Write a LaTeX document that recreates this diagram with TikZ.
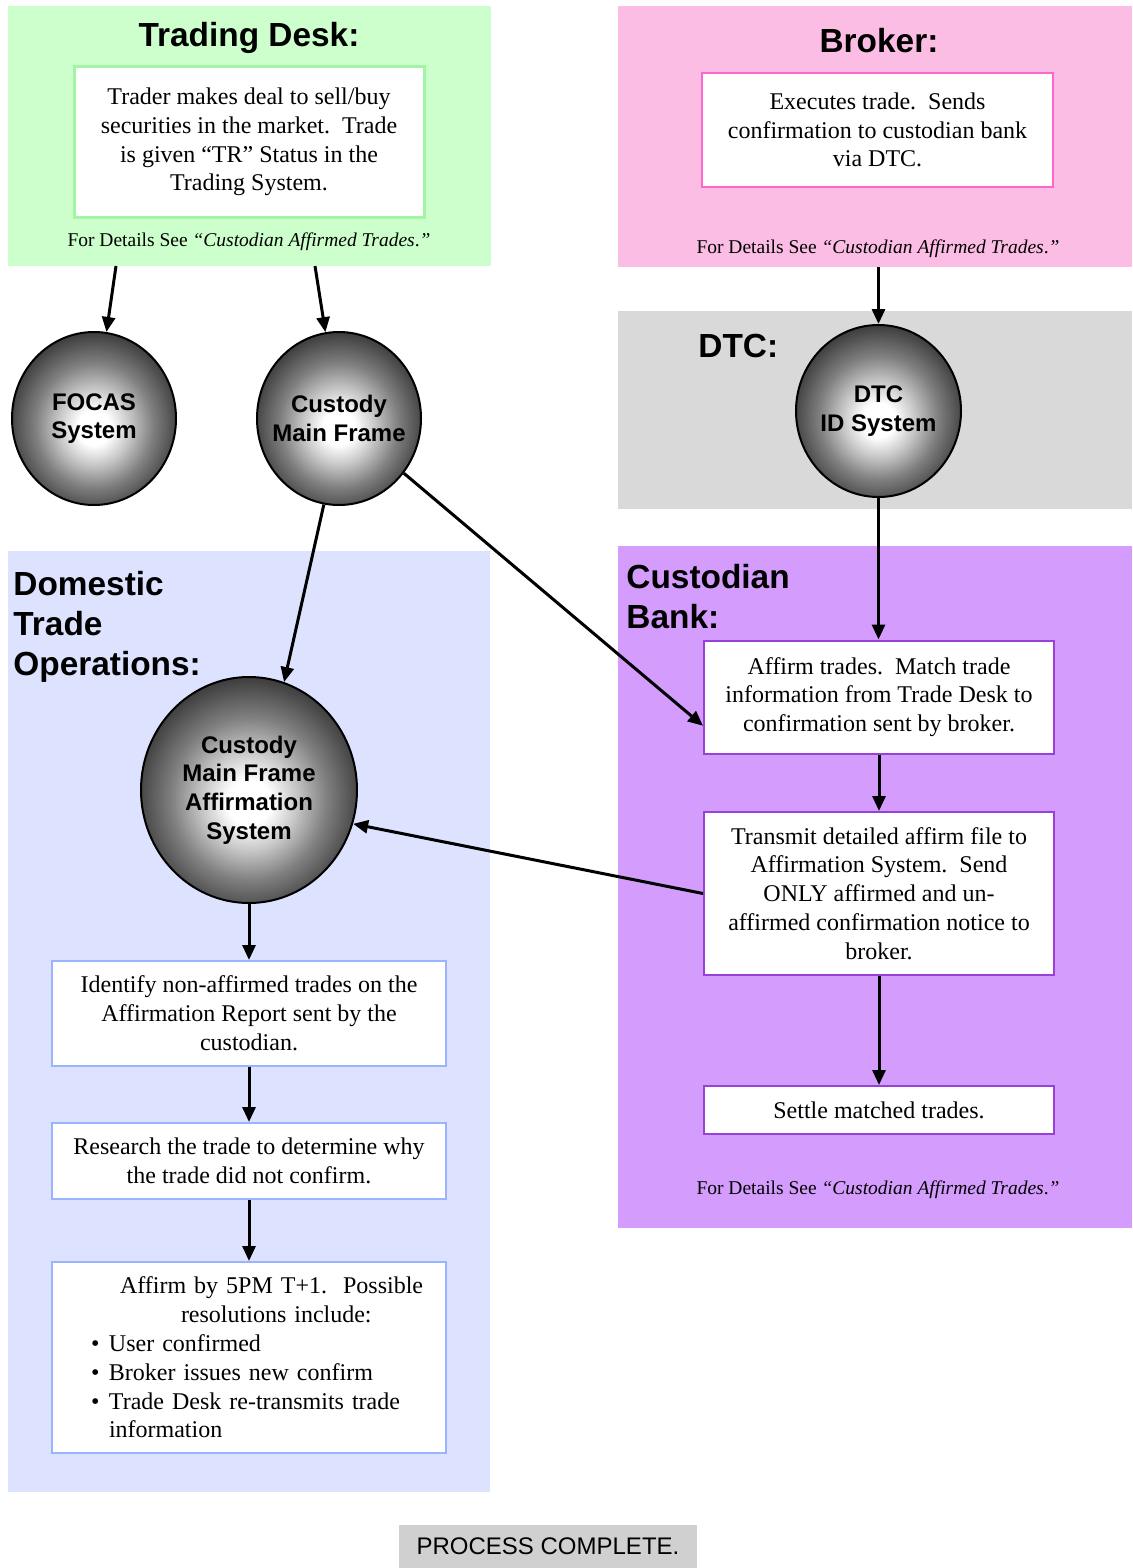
\documentclass[tikz,border=0pt]{standalone}
\usepackage{fontspec}
\setmainfont{Liberation Serif}
\setsansfont{Liberation Sans}
\usetikzlibrary{shapes.geometric,arrows.meta,calc}

% grey ball shading for the system spheres
\pgfdeclareradialshading{sphereshade}{\pgfpoint{0bp}{-3bp}}{%
  color(0bp)=(white); color(5bp)=(white); color(11bp)=(black!22);
  color(18bp)=(black!50); color(27bp)=(black!78); color(35bp)=(black!94);
  color(42bp)=(black); color(50bp)=(black)}

\definecolor{tdfill}{HTML}{CCFFCC}
\definecolor{tdline}{HTML}{A3F5A3}
\definecolor{brfill}{HTML}{FBBDE3}
\definecolor{brline}{HTML}{FF66CC}
\definecolor{dtcfill}{HTML}{D9D9D9}
\definecolor{opfill}{HTML}{DDE3FE}
\definecolor{opline}{HTML}{99B3FF}
\definecolor{cbfill}{HTML}{D49CFC}
\definecolor{cbline}{HTML}{9940D8}
\definecolor{donefill}{HTML}{D0D0D0}

\begin{document}
\begin{tikzpicture}[x=0.5pt,y=-0.5pt,
  region/.style={rectangle, inner sep=0pt, outer sep=0pt, draw=none},
  body/.style={font=\fontsize{12}{14.4}\selectfont},
  stepbox/.style={rectangle, fill=white, align=center, inner sep=0pt, line width=1pt, body},
  head/.style={font=\sffamily\bfseries\fontsize{16.7}{20}\selectfont, inner sep=0pt},
  note/.style={font=\fontsize{9.75}{11}\selectfont, inner sep=0pt},
  sphere/.style={ellipse, draw=black, line width=1pt, inner sep=-14pt, shade, shading=sphereshade,
    align=center, font=\sffamily\bfseries\fontsize{12}{14.3}\selectfont},
  flow/.style={line width=1.5pt, -{Triangle[length=7.5pt,width=6.5pt]}}]

\useasboundingbox (0,0) rectangle (1132,1568);

% ---------- lane backgrounds ----------
\node[region, fill=tdfill, minimum width=241.5pt, minimum height=130pt] (tdesk) at (249.5,136) {};
\node[region, fill=brfill, minimum width=257pt, minimum height=130.5pt] (broker) at (875,136.5) {};
\node[region, fill=dtcfill, minimum width=257pt, minimum height=99pt] (dtc) at (875,410) {};
\node[region, fill=opfill, minimum width=241pt, minimum height=470.5pt] (ops) at (249,1021.5) {};
\node[region, fill=cbfill, minimum width=257pt, minimum height=341pt] (bank) at (875,887) {};

% ---------- lane titles ----------
\node[head, anchor=base] (tdtitle) at (249,47) {Trading Desk:};
\node[head, anchor=base] (brtitle) at (879,53) {Broker:};
\node[head, anchor=base west] (dtctitle) at (698,357) {DTC:};
\node[head, anchor=north west, align=left] (optitle) at (13,571) {Domestic\\Trade\\Operations:};
\node[head, anchor=north west, align=left] (cbtitle) at (626,564) {Custodian\\Bank:};

% ---------- Trading Desk ----------
\node[stepbox, draw=tdline, line width=1.5pt, minimum width=175pt, minimum height=75pt] (trader) at (249,142)
  {Trader makes deal to sell/buy\\securities in the market.\ \ Trade\\is given “TR” Status in the\\Trading System.};
\node[note] (tdnote) at (249,242) {For Details See \textit{“Custodian Affirmed Trades}.\textit{”}};

% ---------- Broker ----------
\node[stepbox, draw=brline, minimum width=175.5pt, minimum height=56.5pt] (execute) at (877.5,130)
  {Executes trade.\ \ Sends\\confirmation to custodian bank\\via DTC.};
\node[note] (brnote) at (878,249) {For Details See \textit{“Custodian Affirmed Trades}.\textit{”}};

% ---------- systems ----------
\node[sphere, minimum width=82pt, minimum height=86.5pt] (focas) at (94,418.5) {FOCAS\\System};
\node[sphere, minimum width=82pt, minimum height=86.5pt] (cmf) at (339,418.5) {Custody\\Main Frame};
\node[sphere, minimum width=82.5pt, minimum height=86pt] (dtcsys) at (878.5,411) {DTC\\ID System};
\node[sphere, minimum width=108pt, minimum height=113pt] (aff) at (249,790)
  {Custody\\Main Frame\\Affirmation\\System};

% ---------- Custodian Bank ----------
\node[stepbox, draw=cbline, minimum width=175pt, minimum height=56.5pt] (ataff) at (879,697)
  {Affirm trades.\ \ Match trade\\information from Trade Desk to\\confirmation sent by broker.};
\node[stepbox, draw=cbline, minimum width=175pt, minimum height=81.5pt] (transmit) at (879,893.5)
  {Transmit detailed affirm file to\\Affirmation System.\ \ Send\\ONLY affirmed and un-\\affirmed confirmation notice to\\broker.};
\node[stepbox, draw=cbline, minimum width=175pt, minimum height=24pt] (settle) at (879,1110)
  {Settle matched trades.};
\node[note] (cbnote) at (878,1190) {For Details See \textit{“Custodian Affirmed Trades}.\textit{”}};

% ---------- Domestic Trade Operations ----------
\node[stepbox, draw=opline, minimum width=197pt, minimum height=52.5pt] (ident) at (249,1013.5)
  {Identify non-affirmed trades on the\\Affirmation Report sent by the\\custodian.};
\node[stepbox, draw=opline, minimum width=197pt, minimum height=38pt] (research) at (249,1161)
  {Research the trade to determine why\\the trade did not confirm.};
\node[stepbox, draw=opline, minimum width=197pt, minimum height=95.5pt, text width=158pt,
      align=left, inner xsep=19.5pt] (affirm) at (249,1357.5)
  {\mbox{\hspace*{14.5pt}Affirm by 5PM T+1.\ \ Possible}\\
   \mbox{\hspace*{45pt}resolutions include:}\\
   \mbox{\makebox[9pt][l]{\textbullet}User confirmed}\\
   \mbox{\makebox[9pt][l]{\textbullet}Broker issues new confirm}\\
   \mbox{\makebox[9pt][l]{\textbullet}Trade Desk re-transmits trade}\\
   \mbox{\hspace*{9pt}information}};

% ---------- end marker ----------
\node[region, fill=donefill, minimum width=149pt, minimum height=21.5pt,
      font=\sffamily\fontsize{12}{14}\selectfont] (done) at (548,1546.5) {PROCESS COMPLETE.};

% ---------- connectors ----------
\draw[flow] ($(tdesk.south west)+(108,0)$) -- (focas);
\draw[flow] ($(tdesk.south west)+(307,0)$) -- (cmf);
\draw[flow] (broker.south -| dtcsys.north) -- (dtcsys.north);
\draw[flow] (dtcsys.south) -- (dtcsys.south |- ataff.north);
\draw[flow] (cmf) -- ($(ataff.west)!0.5!(ataff.south west)$);
\draw[flow] (cmf.260) -- (aff.72);
\draw[flow] (ataff.south) -- (transmit.north);
\draw[flow] (transmit.west) -- (aff.342);
\draw[flow] (transmit.south) -- (settle.north);
\draw[flow] (aff.south) -- (ident.north);
\draw[flow] (ident.south) -- (research.north);
\draw[flow] (research.south) -- (affirm.north);

\end{tikzpicture}
\end{document}
